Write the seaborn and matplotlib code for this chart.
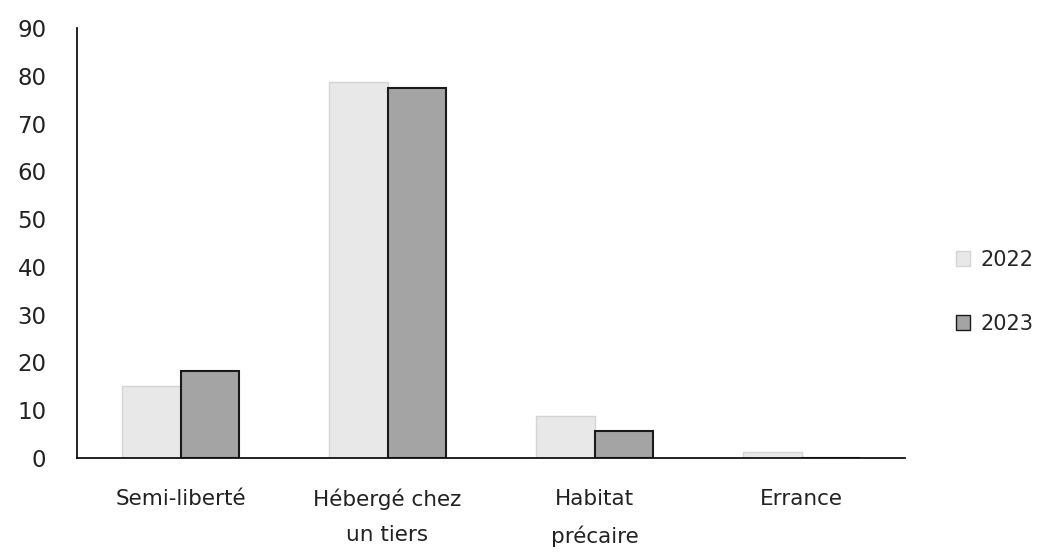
import matplotlib
matplotlib.use("Agg")
import matplotlib.pyplot as plt
import seaborn as sns
import pandas as pd
from matplotlib.patches import Patch

categories = ["Semi-liberté", "Hébergé chez\nun tiers", "Habitat\nprécaire", "Errance"]
values_2022 = [15.1, 78.8, 8.7, 1.2]
values_2023 = [18.2, 77.4, 5.7, 0.0]
years = ["2022", "2023"]
yticks = [0, 10, 20, 30, 40, 50, 60, 70, 80, 90]

df = pd.DataFrame({
    "cat": categories * 2,
    "year": [years[0]] * 4 + [years[1]] * 4,
    "value": values_2022 + values_2023,
})

sns.set_theme(style="white")
plt.rcParams["font.family"] = ["DejaVu Sans"]

fig = plt.figure(figsize=(10.47, 5.56), dpi=100)
ax = fig.add_axes([77 / 1047, (556 - 458) / 556, 828 / 1047, 430 / 556])

colors = {"2022": "#e8e8e8", "2023": "#a4a4a4"}
sns.barplot(data=df, x="cat", y="value", hue="year", palette=colors,
            width=0.57, gap=0.0, ax=ax, legend=False, saturation=1)

edgecols = ["#d4d4d4", "#1a1a1a"]
for i, cont in enumerate(ax.containers):
    for p in cont:
        p.set_edgecolor(edgecols[i])
        p.set_linewidth(1.0 if i == 0 else 1.5)

ax.set_ylim(0, 90)
ax.set_yticks(yticks)
ax.set_yticklabels([str(t) for t in yticks], fontsize=16.5, color="#222222")
ax.tick_params(axis="y", length=0, pad=22)
ax.tick_params(axis="x", length=0, pad=22, labelsize=15.5, labelcolor="#222222")
ax.set_xlabel("")
ax.set_ylabel("")
for s in ["top", "right"]:
    ax.spines[s].set_visible(False)
for s in ["left", "bottom"]:
    ax.spines[s].set_color("#111111")
    ax.spines[s].set_linewidth(1.3)
for lbl in ax.get_xticklabels():
    lbl.set_linespacing(1.95)

handles = [Patch(facecolor=colors[y], edgecolor=e, linewidth=1) for y, e in zip(years, edgecols)]
fig.legend(handles, years, loc="center left", bbox_to_anchor=(0.913, 0.475),
           frameon=False, fontsize=15, handlelength=0.7, handleheight=0.7,
           handletextpad=0.5, labelspacing=2.1, borderpad=0, borderaxespad=0)

fig.savefig("out.png", dpi=100)
